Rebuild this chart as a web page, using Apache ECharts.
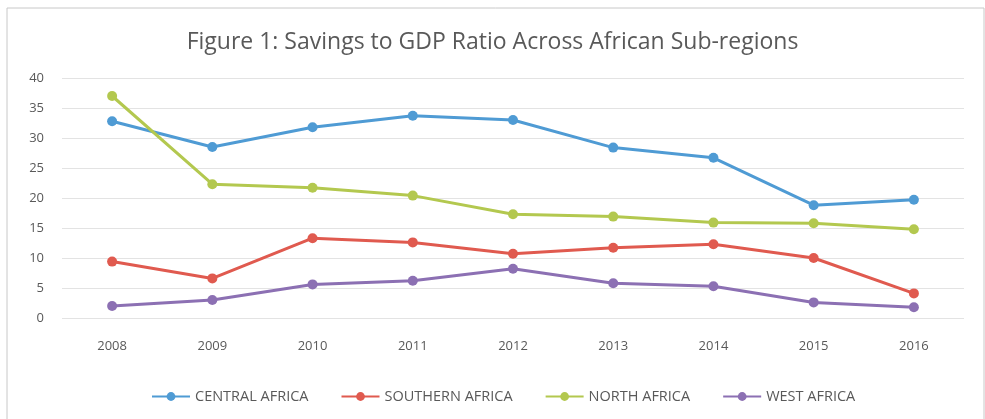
<!DOCTYPE html>
<html>
<head>
<meta charset="utf-8">
<script src="https://cdn.jsdelivr.net/npm/echarts@6/dist/echarts.min.js"></script>
<style>
  html, body { margin: 0; padding: 0; background: #fff; }
  #main { width: 985px; height: 419px; }
</style>
</head>
<body>
<div id="main"></div>
<script>
const years = ['2008', '2009', '2010', '2011', '2012', '2013', '2014', '2015', '2016'];
const central = [32.8, 28.5, 31.8, 33.7, 33.0, 28.4, 26.7, 18.8, 19.7];
const southern = [9.4, 6.6, 13.3, 12.6, 10.7, 11.7, 12.3, 10.0, 4.1];
const north = [37.0, 22.3, 21.7, 20.4, 17.3, 16.9, 15.9, 15.8, 14.8];
const west = [2.0, 3.0, 5.6, 6.2, 8.2, 5.8, 5.3, 2.6, 1.8];

const font = "'Open Sans', sans-serif";

let myChart = echarts.init(document.getElementById('main'));

function line(name, data, color) {
  return {
    name: name,
    type: 'line',
    data: data,
    symbol: 'circle',
    symbolSize: 10,
    lineStyle: { width: 3, color: color },
    itemStyle: { color: color }
  };
}

let option = {
  animation: false,
  backgroundColor: '#fff',
  graphic: [
    {
      type: 'rect',
      shape: { x: 7, y: 8, width: 977, height: 430 },
      style: { fill: 'none', stroke: '#c8c8c8', lineWidth: 1 }
    }
  ],
  title: {
    text: 'Figure 1: Savings to GDP Ratio Across African Sub-regions',
    left: 'center',
    top: 26,
    textStyle: { fontFamily: font, fontSize: 23, fontWeight: 'normal', color: '#595959' }
  },
  legend: {
    top: 384,
    left: 146,
    itemWidth: 38,
    itemHeight: 11,
    itemGap: 32,
    textStyle: { fontFamily: font, fontSize: 14.5, color: '#595959' },
    data: ['CENTRAL AFRICA', 'SOUTHERN AFRICA', 'NORTH AFRICA', 'WEST AFRICA']
  },
  grid: { left: 62, right: 21, top: 78, bottom: 101 },
  xAxis: {
    type: 'category',
    data: years,
    boundaryGap: true,
    axisLine: { show: false },
    axisTick: { show: false },
    axisLabel: { fontFamily: font, fontSize: 13, color: '#595959', margin: 22 }
  },
  yAxis: {
    type: 'value',
    min: 0,
    max: 40,
    interval: 5,
    axisLine: { show: false },
    axisTick: { show: false },
    axisLabel: { fontFamily: font, fontSize: 13, color: '#595959', margin: 18 },
    splitLine: { lineStyle: { color: '#e3e3e3', width: 1 } }
  },
  series: [
    line('CENTRAL AFRICA', central, '#4f9bd4'),
    line('SOUTHERN AFRICA', southern, '#e05a4f'),
    line('NORTH AFRICA', north, '#b3c84f'),
    line('WEST AFRICA', west, '#8c70b3')
  ]
};

option && myChart.setOption(option);
</script>
</body>
</html>
